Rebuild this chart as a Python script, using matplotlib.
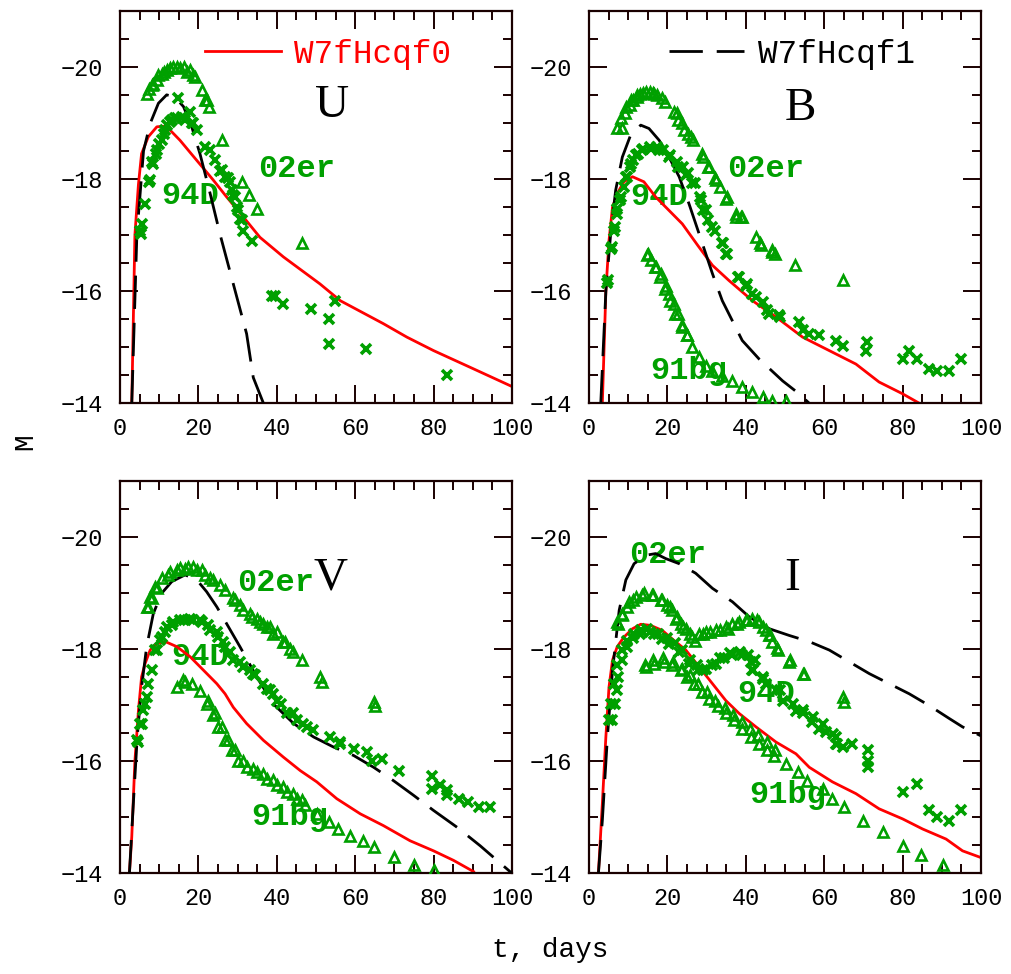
import matplotlib
matplotlib.use("Agg")
import matplotlib.pyplot as plt
from matplotlib.ticker import MultipleLocator

plt.rcParams['font.family'] = ['Liberation Mono', 'DejaVu Sans']
plt.rcParams['axes.unicode_minus'] = True

GREEN = '#00a000'
RED = '#ff0000'

# ---------------- U band ----------------
U_red_t = [3.0, 3.8, 4.7, 5.5, 7.2, 9.4, 11.0, 12.8, 15.3, 19.6, 23.8, 27.2, 31.5, 35.7, 41.7, 51.0, 56.2, 67.2, 73.2, 80.0, 89.4, 100.0]
U_red_M = [-14.0, -17.0, -17.9, -18.45, -18.75, -18.93, -18.94, -18.87, -18.69, -18.33, -17.98, -17.68, -17.32, -16.96, -16.61, -16.13, -15.83, -15.42, -15.18, -14.94, -14.64, -14.30]
U_blk_t = [3.0, 4.3, 6.0, 7.7, 9.8, 11.9, 14.0, 16.2, 18.3, 20.4, 23.0, 25.5, 28.9, 32.3, 34.0, 36.6]
U_blk_M = [-14.0, -17.0, -18.5, -18.99, -19.35, -19.5, -19.46, -19.29, -18.93, -18.45, -17.74, -17.02, -16.13, -15.24, -14.46, -14.0]
U_er_t = [6.8, 7.5, 8.1, 8.5, 9.4, 9.8, 10.6, 11.1, 11.9, 12.8, 13.6, 14.5, 15.3, 16.2, 17.0, 17.9, 18.7, 19.1, 20.8, 21.7, 22.1, 22.6, 25.9, 31.1, 32.8, 34.9, 46.4]
U_er_M = [-19.52, -19.6, -19.67, -19.7, -19.76, -19.85, -19.88, -19.9, -19.94, -19.97, -20.0, -20.0, -19.97, -20.0, -19.91, -19.94, -19.85, -19.82, -19.58, -19.4, -19.41, -19.29, -18.69, -17.95, -17.71, -17.47, -16.85]
U_94_t = [5.1, 5.3, 5.5, 6.4, 7.5, 7.7, 8.1, 8.5, 9.2, 9.4, 10.0, 10.6, 11.1, 11.5, 11.9, 12.8, 13.2, 14.0, 14.5, 14.9, 15.7, 16.6, 17.9, 18.3, 18.7, 19.6, 21.7, 23.0, 24.2, 25.5, 25.9, 26.8, 27.6, 28.1, 28.5, 28.9, 29.3, 29.8, 30.2, 30.6, 31.0, 31.5, 33.6, 38.7, 39.6, 41.5, 48.7, 53.4, 54.9, 53.4, 62.7, 83.4]
U_94_M = [-17.08, -17.02, -17.2, -17.56, -17.95, -17.98, -18.3, -18.27, -18.45, -18.51, -18.63, -18.69, -18.81, -18.87, -18.96, -19.02, -19.05, -19.08, -19.08, -19.44, -19.11, -19.05, -19.2, -18.99, -18.99, -18.87, -18.57, -18.51, -18.33, -18.15, -18.16, -18.04, -18.01, -17.95, -17.8, -17.71, -17.68, -17.5, -17.44, -17.29, -17.26, -17.08, -16.9, -15.92, -15.92, -15.77, -15.68, -15.51, -15.83, -15.06, -14.97, -14.51]

# ---------------- B band ----------------
B_red_t = [3.4, 4.3, 5.1, 6.0, 7.2, 8.9, 11.1, 14.0, 17.0, 20.4, 23.8, 27.7, 31.5, 35.7, 41.7, 47.7, 54.5, 61.3, 68.1, 74.0, 80.0, 84.3]
B_red_M = [-14.0, -16.0, -16.9, -17.5, -17.74, -17.95, -18.04, -17.95, -17.68, -17.44, -17.2, -16.82, -16.46, -16.19, -15.83, -15.54, -15.18, -14.94, -14.70, -14.38, -14.17, -14.0]
B_blk_t = [3.0, 4.3, 5.5, 6.8, 8.5, 10.6, 13.2, 15.3, 17.9, 20.4, 23.0, 25.5, 28.1, 31.5, 34.0, 39.1, 43.4, 49.4, 53.6, 56.2]
B_blk_M = [-14.0, -16.0, -17.0, -17.8, -18.39, -18.78, -18.96, -18.9, -18.69, -18.39, -18.04, -17.56, -17.02, -16.31, -15.83, -15.12, -14.79, -14.40, -14.17, -14.0]
B_er_t = [7.2, 8.1, 8.3, 9.2, 9.4, 10.5, 10.6, 11.3, 12.2, 12.3, 13.0, 13.9, 14.5, 15.6, 16.4, 16.6, 17.3, 18.6, 19.4, 21.7, 22.4, 22.6, 23.6, 24.3, 25.3, 26.0, 26.6, 28.9, 29.2, 30.4, 30.6, 32.2, 32.3, 33.4, 34.9, 35.1, 37.4, 37.6, 38.9, 39.1, 42.7, 43.6, 43.8, 46.6, 46.8, 47.4, 52.6, 64.7]
B_er_M = [-18.9, -19.08, -18.9, -19.17, -19.29, -19.32, -19.4, -19.41, -19.46, -19.49, -19.51, -19.54, -19.55, -19.55, -19.54, -19.52, -19.49, -19.44, -19.38, -19.2, -19.17, -19.05, -18.99, -18.87, -18.81, -18.75, -18.7, -18.45, -18.39, -18.21, -18.21, -18.01, -17.98, -17.86, -17.65, -17.68, -17.32, -17.38, -17.32, -17.32, -16.96, -16.85, -16.82, -16.73, -16.7, -16.67, -16.46, -16.19]
B_94_t = [4.7, 4.9, 5.5, 5.8, 6.4, 6.6, 7.1, 7.2, 7.9, 8.1, 8.8, 9.4, 9.6, 10.5, 10.6, 11.3, 11.9, 12.6, 13.6, 13.9, 15.6, 15.7, 17.3, 17.9, 19.0, 20.4, 20.7, 22.4, 22.6, 24.1, 24.7, 25.3, 26.4, 27.0, 28.3, 28.5, 29.2, 29.8, 30.4, 31.5, 32.2, 34.0, 34.3, 34.9, 35.1, 38.1, 38.3, 40.0, 40.2, 41.7, 42.7, 44.3, 45.3, 46.0, 48.5, 48.7, 53.6, 54.5, 56.2, 58.7, 63.0, 64.7, 71.0, 70.6, 80.0, 81.7, 83.8, 86.8, 88.9, 91.9, 94.9]
B_94_M = [-16.15, -16.19, -16.75, -16.79, -17.08, -17.14, -17.38, -17.47, -17.62, -17.68, -17.86, -18.04, -18.04, -18.21, -18.27, -18.33, -18.42, -18.45, -18.51, -18.54, -18.57, -18.54, -18.57, -18.51, -18.51, -18.39, -18.42, -18.3, -18.21, -18.21, -18.07, -18.1, -17.92, -17.92, -17.68, -17.62, -17.44, -17.44, -17.26, -17.14, -17.08, -16.85, -16.85, -16.67, -16.67, -16.25, -16.25, -16.1, -16.13, -15.95, -15.89, -15.8, -15.66, -15.6, -15.57, -15.54, -15.45, -15.3, -15.24, -15.21, -15.12, -15.03, -15.09, -14.94, -14.79, -14.94, -14.79, -14.61, -14.58, -14.58, -14.79]
B_bg_t = [14.9, 15.1, 15.7, 16.8, 17.0, 18.1, 18.3, 19.4, 19.6, 20.4, 20.7, 21.7, 21.9, 22.6, 23.6, 23.8, 24.9, 25.1, 26.4, 28.1, 29.8, 31.5, 34.0, 36.6, 39.1, 41.7, 44.3, 46.8, 50.2]
B_bg_M = [-16.64, -16.67, -16.55, -16.43, -16.43, -16.25, -16.31, -16.04, -16.1, -15.95, -15.83, -15.77, -15.6, -15.6, -15.36, -15.39, -15.21, -15.21, -15.0, -14.82, -14.67, -14.58, -14.49, -14.4, -14.29, -14.2, -14.11, -14.05, -14.05]

# ---------------- V band ----------------
V_red_t = [2.4, 3.0, 3.8, 4.7, 5.5, 6.4, 7.7, 9.4, 11.9, 14.5, 17.9, 21.3, 24.7, 26.8, 28.9, 32.3, 36.6, 41.7, 46.0, 50.2, 55.3, 61.3, 67.2, 74.0, 80.0, 85.1, 90.2]
V_red_M = [-14.0, -14.65, -16.0, -16.9, -17.5, -17.74, -17.98, -18.1, -18.12, -18.04, -17.86, -17.62, -17.38, -17.2, -16.96, -16.67, -16.37, -16.07, -15.83, -15.63, -15.33, -15.06, -14.85, -14.58, -14.4, -14.23, -14.03]
V_blk_t = [2.4, 3.4, 4.4, 5.5, 6.8, 8.5, 10.6, 13.2, 16.6, 19.6, 22.1, 24.7, 27.7, 30.6, 34.9, 39.1, 44.3, 49.4, 54.5, 59.6, 64.7, 69.8, 74.9, 80.0, 86.0, 91.9, 96.2, 100.0]
V_blk_M = [-14.0, -15.24, -16.43, -17.32, -18.04, -18.63, -18.99, -19.2, -19.32, -19.23, -19.02, -18.75, -18.39, -18.04, -17.5, -17.02, -16.67, -16.43, -16.25, -16.1, -15.89, -15.65, -15.39, -15.12, -14.82, -14.49, -14.23, -14.0]
V_er_t = [6.8, 7.2, 7.7, 8.1, 8.9, 9.4, 10.6, 12.3, 12.8, 14.5, 15.3, 16.6, 17.4, 18.7, 19.6, 20.9, 21.7, 23.0, 23.8, 25.5, 26.8, 28.9, 29.4, 30.6, 31.5, 33.2, 33.6, 34.9, 35.7, 36.6, 37.4, 38.3, 39.1, 40.0, 41.7, 42.1, 43.4, 44.2, 46.4, 51.1, 51.5, 64.7, 65.1]
V_er_M = [-18.75, -18.75, -18.93, -18.9, -19.11, -19.08, -19.26, -19.32, -19.38, -19.4, -19.45, -19.43, -19.46, -19.46, -19.41, -19.4, -19.32, -19.26, -19.23, -19.14, -19.05, -18.9, -18.87, -18.78, -18.69, -18.63, -18.57, -18.54, -18.48, -18.45, -18.39, -18.39, -18.27, -18.3, -18.13, -18.12, -18.0, -17.95, -17.8, -17.5, -17.41, -17.05, -16.99]
V_94_t = [4.3, 4.7, 5.1, 5.5, 5.9, 6.4, 6.8, 7.2, 8.1, 8.9, 9.4, 10.2, 10.6, 11.5, 11.9, 13.2, 13.6, 15.3, 16.2, 17.9, 18.7, 20.4, 20.9, 22.5, 23.0, 24.7, 25.1, 26.4, 26.8, 28.1, 28.9, 30.6, 31.5, 33.2, 34.0, 34.4, 36.6, 37.4, 38.3, 39.1, 40.0, 41.2, 42.6, 44.2, 45.1, 46.8, 47.7, 49.3, 53.6, 56.1, 56.2, 59.6, 63.0, 64.3, 66.8, 71.1, 79.6, 79.6, 81.7, 83.4, 83.4, 86.4, 88.9, 91.5, 94.5]
V_94_M = [-16.37, -16.34, -16.67, -16.67, -16.91, -17.02, -17.14, -17.38, -17.62, -17.98, -17.98, -18.16, -18.21, -18.3, -18.39, -18.42, -18.48, -18.51, -18.51, -18.54, -18.51, -18.51, -18.48, -18.42, -18.33, -18.3, -18.21, -18.12, -18.04, -17.95, -17.8, -17.77, -17.68, -17.62, -17.56, -17.53, -17.38, -17.29, -17.26, -17.2, -17.08, -17.02, -16.85, -16.85, -16.73, -16.67, -16.61, -16.55, -16.43, -16.34, -16.31, -16.22, -16.16, -16.01, -16.04, -15.83, -15.74, -15.51, -15.57, -15.48, -15.39, -15.33, -15.27, -15.18, -15.18]
V_bg_t = [14.5, 16.1, 16.6, 18.3, 20.4, 22.1, 22.5, 23.8, 24.2, 25.1, 25.9, 26.8, 27.6, 28.5, 29.3, 30.2, 31.5, 32.3, 34.0, 34.9, 36.6, 37.4, 39.1, 40.0, 41.7, 42.6, 44.2, 45.1, 46.4, 47.2, 50.2, 53.2, 55.7, 58.7, 62.1, 64.7, 69.8, 74.9, 80.0]
V_bg_M = [-17.32, -17.44, -17.41, -17.38, -17.25, -17.02, -17.08, -16.82, -16.85, -16.61, -16.61, -16.37, -16.37, -16.19, -16.19, -16.01, -16.01, -15.89, -15.86, -15.8, -15.77, -15.68, -15.66, -15.57, -15.54, -15.45, -15.42, -15.33, -15.3, -15.21, -15.06, -14.91, -14.79, -14.67, -14.58, -14.46, -14.29, -14.14, -14.05]

# ---------------- I band ----------------
I_red_t = [2.4, 3.4, 4.3, 5.1, 6.0, 7.2, 8.9, 11.1, 13.2, 15.7, 18.7, 21.7, 24.7, 28.1, 31.5, 34.9, 38.3, 42.6, 47.7, 52.8, 56.2, 62.1, 68.1, 74.0, 80.0, 85.1, 91.1, 95.3, 100.0]
I_red_M = [-14.0, -15.24, -16.43, -17.32, -17.8, -18.04, -18.21, -18.36, -18.44, -18.42, -18.33, -18.15, -17.98, -17.68, -17.38, -17.08, -16.85, -16.61, -16.34, -16.13, -15.89, -15.63, -15.42, -15.15, -14.97, -14.79, -14.61, -14.40, -14.28]
I_blk_t = [2.4, 3.4, 4.7, 6.0, 7.7, 9.4, 11.5, 14.5, 17.0, 19.6, 23.0, 27.2, 31.5, 36.6, 40.9, 46.0, 51.1, 56.2, 61.3, 66.4, 71.5, 76.6, 81.7, 86.8, 91.9, 95.3, 100.0]
I_blk_M = [-14.0, -14.94, -16.43, -17.62, -18.69, -19.23, -19.52, -19.67, -19.7, -19.61, -19.52, -19.35, -19.08, -18.84, -18.57, -18.36, -18.24, -18.13, -17.98, -17.77, -17.56, -17.38, -17.2, -16.99, -16.76, -16.61, -16.45]
I_er_t = [7.2, 7.5, 8.3, 8.5, 9.6, 10.2, 11.3, 11.9, 13.4, 14.0, 16.0, 16.2, 18.3, 18.5, 20.0, 20.7, 21.3, 22.1, 22.4, 23.4, 24.1, 24.7, 25.8, 26.4, 27.0, 28.1, 29.2, 29.8, 30.9, 32.3, 33.4, 34.9, 35.5, 36.6, 37.7, 38.3, 40.0, 40.2, 41.7, 42.8, 43.4, 44.5, 45.1, 46.0, 46.2, 46.8, 47.9, 48.1, 51.1, 51.3, 54.7, 54.9, 64.7, 65.1]
I_er_M = [-18.48, -18.45, -18.6, -18.63, -18.75, -18.84, -18.87, -18.93, -18.96, -18.99, -18.96, -18.96, -18.87, -18.87, -18.78, -18.75, -18.69, -18.54, -18.57, -18.45, -18.39, -18.36, -18.27, -18.21, -18.15, -18.27, -18.27, -18.3, -18.3, -18.33, -18.33, -18.39, -18.36, -18.45, -18.45, -18.48, -18.51, -18.51, -18.54, -18.51, -18.48, -18.39, -18.33, -18.24, -18.24, -18.12, -18.01, -17.98, -17.77, -17.8, -17.56, -17.56, -17.14, -17.05]
I_94_t = [5.1, 5.5, 5.8, 6.4, 6.6, 7.1, 7.2, 7.5, 8.3, 8.5, 9.6, 9.8, 11.3, 11.5, 13.0, 13.2, 14.9, 15.6, 16.6, 17.7, 18.7, 19.8, 20.4, 21.9, 23.0, 23.6, 25.5, 25.8, 27.5, 27.7, 29.2, 29.8, 31.3, 32.3, 33.4, 34.5, 36.0, 36.6, 38.5, 39.1, 40.6, 41.3, 41.7, 41.9, 42.3, 44.3, 44.5, 45.1, 47.7, 48.7, 49.4, 52.1, 52.8, 54.5, 54.7, 57.0, 57.2, 58.7, 59.8, 60.4, 62.3, 63.0, 63.0, 63.2, 64.7, 67.2, 71.1, 71.1, 71.1, 80.0, 83.8, 86.8, 88.9, 91.9, 94.9]
I_94_M = [-16.73, -17.02, -16.73, -17.38, -17.02, -17.26, -17.71, -17.5, -17.8, -17.98, -18.04, -18.15, -18.19, -18.27, -18.27, -18.33, -18.36, -18.3, -18.27, -18.27, -18.18, -18.19, -18.09, -18.1, -17.95, -17.98, -17.74, -17.8, -17.71, -17.62, -17.62, -17.65, -17.71, -17.74, -17.83, -17.83, -17.92, -17.89, -17.95, -17.89, -17.89, -17.77, -17.62, -17.62, -17.8, -17.5, -17.47, -17.38, -17.26, -17.26, -17.08, -17.02, -16.9, -16.85, -16.91, -16.7, -16.79, -16.58, -16.67, -16.52, -16.49, -16.43, -16.31, -16.31, -16.25, -16.31, -16.19, -16.01, -15.89, -15.45, -15.6, -15.12, -15.0, -14.94, -15.12]
I_bg_t = [14.3, 14.5, 16.4, 16.6, 19.0, 19.1, 21.3, 21.5, 23.4, 23.6, 25.1, 25.8, 26.8, 27.9, 28.9, 30.0, 30.6, 32.1, 32.8, 34.7, 34.9, 36.8, 37.0, 39.0, 39.1, 41.1, 41.3, 43.2, 43.4, 45.3, 45.5, 47.2, 47.4, 50.2, 53.2, 55.7, 59.6, 62.1, 65.1, 69.8, 74.9, 80.0, 84.7, 90.2]
I_bg_M = [-17.71, -17.68, -17.8, -17.74, -17.83, -17.77, -17.71, -17.77, -17.62, -17.65, -17.5, -17.53, -17.38, -17.38, -17.23, -17.23, -17.11, -17.08, -16.99, -16.94, -16.85, -16.82, -16.73, -16.7, -16.58, -16.58, -16.43, -16.46, -16.31, -16.34, -16.19, -16.1, -16.19, -15.95, -15.8, -15.65, -15.51, -15.33, -15.18, -14.94, -14.73, -14.49, -14.32, -14.14]

x_ticks = [0, 20, 40, 60, 80, 100]
y_ticks = [-20, -18, -16, -14]

panels = [
    dict(name='U', red=(U_red_t, U_red_M), blk=(U_blk_t, U_blk_M), er=(U_er_t, U_er_M), d94=(U_94_t, U_94_M), bg=None,
         pos=[0.1187, 0.5859, 0.3877, 0.4031], letter=(54, -19.3),
         lab_er=(45.1, -18.18), lab_94=(18.0, -17.69), lab_bg=None, legend='red'),
    dict(name='B', red=(B_red_t, B_red_M), blk=(B_blk_t, B_blk_M), er=(B_er_t, B_er_M), d94=(B_94_t, B_94_M), bg=(B_bg_t, B_bg_M),
         pos=[0.5826, 0.5859, 0.3877, 0.4031], letter=(54, -19.26),
         lab_er=(45.1, -18.18), lab_94=(17.9, -17.68), lab_bg=(25.5, -14.58), legend='black'),
    dict(name='V', red=(V_red_t, V_red_M), blk=(V_blk_t, V_blk_M), er=(V_er_t, V_er_M), d94=(V_94_t, V_94_M), bg=(V_bg_t, V_bg_M),
         pos=[0.1187, 0.1034, 0.3877, 0.4031], letter=(53.6, -19.26),
         lab_er=(39.6, -19.17), lab_94=(20.4, -17.86), lab_bg=(43.4, -15.0), legend=None),
    dict(name='I', red=(I_red_t, I_red_M), blk=(I_blk_t, I_blk_M), er=(I_er_t, I_er_M), d94=(I_94_t, I_94_M), bg=(I_bg_t, I_bg_M),
         pos=[0.5826, 0.1034, 0.3877, 0.4031], letter=(51.9, -19.26),
         lab_er=(20.0, -19.67), lab_94=(45.1, -17.2), lab_bg=(50.6, -15.39), legend=None),
]

fig = plt.figure(figsize=(10.11, 9.74), dpi=100)

lab_kw = dict(color=GREEN, fontsize=23, fontweight='bold', ha='center', va='center',
              family='Liberation Mono', zorder=1)
tri_kw = dict(ls='none', marker='^', ms=7.5, mfc='none', mec=GREEN, mew=1.9, zorder=4)
x_kw = dict(ls='none', marker='x', ms=7.5, mec=GREEN, mew=2.6, zorder=4)

for p in panels:
    ax = fig.add_axes(p['pos'])
    ax.set_xlim(0, 100)
    ax.set_ylim(-14, -21)
    ax.text(*p['lab_er'], '02er', **lab_kw)
    ax.text(*p['lab_94'], '94D', **lab_kw)
    if p['lab_bg'] is not None:
        ax.text(*p['lab_bg'], '91bg', **lab_kw)
    ax.text(*p['letter'], p['name'], color='black', fontsize=34, ha='center', va='center',
            family='Liberation Serif', zorder=1)
    lr, = ax.plot(*p['red'], color=RED, lw=2.0, zorder=2, label='W7fHcqf0')
    lb, = ax.plot(*p['blk'], color='black', lw=2.0, dashes=(12, 5), zorder=3, label='W7fHcqf1')
    ax.plot(*p['er'], **tri_kw)
    ax.plot(*p['d94'], **x_kw)
    if p['bg'] is not None:
        ax.plot(*p['bg'], **tri_kw)
    if p['legend'] == 'red':
        ax.legend(handles=[lr], loc='center left', bbox_to_anchor=(0.218, 0.889), frameon=False,
                  borderpad=0, borderaxespad=0, handlelength=2.3, handletextpad=0.42,
                  labelcolor='linecolor', prop=dict(family='Liberation Mono', size=23.5))
    elif p['legend'] == 'black':
        ax.legend(handles=[lb], loc='center left', bbox_to_anchor=(0.204, 0.889), frameon=False,
                  borderpad=0, borderaxespad=0, handlelength=2.3, handletextpad=0.42,
                  labelcolor='linecolor', prop=dict(family='Liberation Mono', size=23.5))
    ax.set_xticks(x_ticks)
    ax.set_yticks(y_ticks)
    ax.xaxis.set_minor_locator(MultipleLocator(5))
    ax.yaxis.set_minor_locator(MultipleLocator(0.5))
    ax.tick_params(which='both', direction='in', top=True, right=True, width=1.4, color='#1a0000')
    ax.tick_params(which='major', length=13, labelsize=17, pad=10)
    ax.tick_params(which='minor', length=6.5)
    ax.tick_params(axis='y', which='major', pad=12)
    for s in ax.spines.values():
        s.set_linewidth(1.6)
        s.set_color('#1a0000')

fig.text(0.544, 0.025, 't, days', fontsize=20, ha='center', va='center', family='Liberation Mono')
fig.text(0.025, 0.547, 'M', fontsize=20, ha='center', va='center', rotation=90, family='Liberation Mono')

fig.savefig('out.png', dpi=100)
